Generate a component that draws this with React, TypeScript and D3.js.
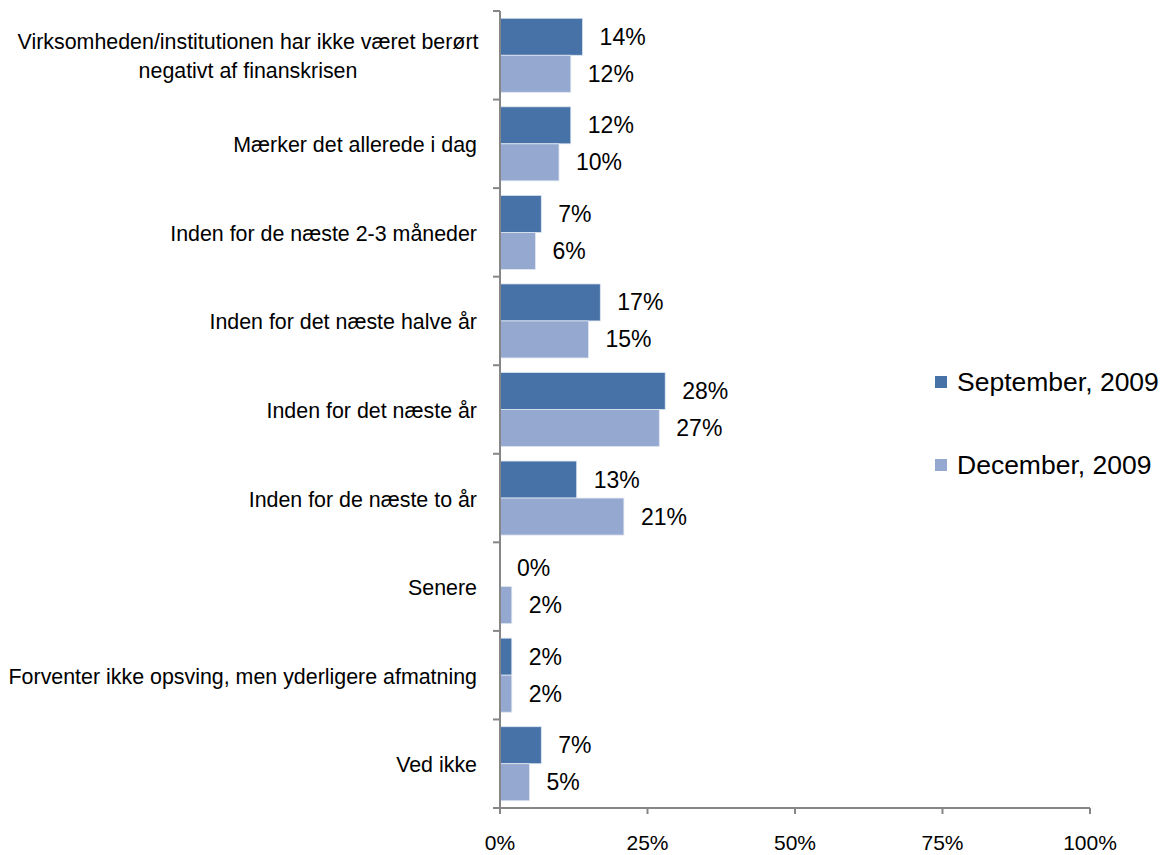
import React from "react";
import * as d3 from "d3";

const categories = [
  ["Virksomheden/institutionen har ikke været berørt", "negativt af finanskrisen"],
  ["Mærker det allerede i dag"],
  ["Inden for de næste 2-3 måneder"],
  ["Inden for det næste halve år"],
  ["Inden for det næste år"],
  ["Inden for de næste to år"],
  ["Senere"],
  ["Forventer ikke opsving, men yderligere afmatning"],
  ["Ved ikke"],
];
const septValues = [14, 12, 7, 17, 28, 13, 0, 2, 7];
const decValues = [12, 10, 6, 15, 27, 21, 2, 2, 5];
const seriesNames = ["September, 2009", "December, 2009"];
const seriesColors = ["#4672a7", "#95a9d0"];
const xTicks = [0, 25, 50, 75, 100];

export default function App() {
  const W = 1161, H = 855;
  const left = 500, right = 1090, top = 11, bottom = 808;
  const keys = categories.map((_, i) => String(i));
  const x = d3.scaleLinear().domain([0, 100]).range([left, right]);
  const p = 0.164;
  const y = d3.scaleBand().domain(keys).range([top, bottom]).paddingInner(p).paddingOuter(p / 2);
  const step = y.step();
  const bw = y.bandwidth();
  const sub = d3.scaleBand().domain(["0", "1"]).range([0, bw]);
  const font = "Liberation Sans, Arial, sans-serif";
  const axisColor = "#868686";
  const series = [septValues, decValues];

  return (
    <svg width={W} height={H} style={{ position: "absolute", left: 0, top: 0 }} fontFamily={font}>
      <rect width={W} height={H} fill="#fff" />
      {keys.map((k, i) => (
        <g key={k}>
          {series.map((vals, s) => {
            const by = (y(k) as number) + (sub(String(s)) as number);
            return (
              <g key={s}>
                <rect
                  x={x(0)}
                  y={by}
                  width={Math.max(0, x(vals[i]) - x(0))}
                  height={sub.bandwidth()}
                  fill={seriesColors[s]}
                  stroke="#dfe6f1"
                  strokeWidth={0.8}
                />
                <text
                  x={x(vals[i]) + 17}
                  y={by + sub.bandwidth() / 2}
                  dominantBaseline="central"
                  fontSize={23}
                  fill="#000"
                >
                  {vals[i]}%
                </text>
              </g>
            );
          })}
          {categories[i].map((line, li) => {
            const cy = (y(k) as number) + bw / 2 + 1.5;
            const n = categories[i].length;
            const lh = 29;
            return (
              <text
                key={li}
                x={477}
                y={cy + (li - (n - 1) / 2) * lh}
                textAnchor={n > 1 ? "middle" : "end"}
                dx={n > 1 ? -229 : 0}
                dominantBaseline="central"
                fontSize={21.4}
                fill="#000"
              >
                {line}
              </text>
            );
          })}
        </g>
      ))}
      <line x1={left} x2={left} y1={top} y2={bottom} stroke={axisColor} strokeWidth={2} />
      {d3.range(keys.length + 1).map((j) => {
        const ty = top + j * step;
        return <line key={j} x1={left - 7} x2={left} y1={ty} y2={ty} stroke={axisColor} strokeWidth={2} />;
      })}
      <line x1={left} x2={right} y1={bottom} y2={bottom} stroke={axisColor} strokeWidth={2} />
      {xTicks.map((t) => (
        <g key={t}>
          <line x1={x(t)} x2={x(t)} y1={bottom} y2={bottom + 6} stroke={axisColor} strokeWidth={2} />
          <text x={x(t)} y={842} textAnchor="middle" dominantBaseline="central" fontSize={21} fill="#000">
            {t}%
          </text>
        </g>
      ))}
      {seriesNames.map((name, s) => {
        const ly = 382 + s * 83;
        return (
          <g key={name}>
            <rect x={935} y={ly - 6} width={12} height={12} fill={seriesColors[s]} />
            <text x={957} y={ly} dominantBaseline="central" fontSize={26.5} fill="#000">
              {name}
            </text>
          </g>
        );
      })}
    </svg>
  );
}
